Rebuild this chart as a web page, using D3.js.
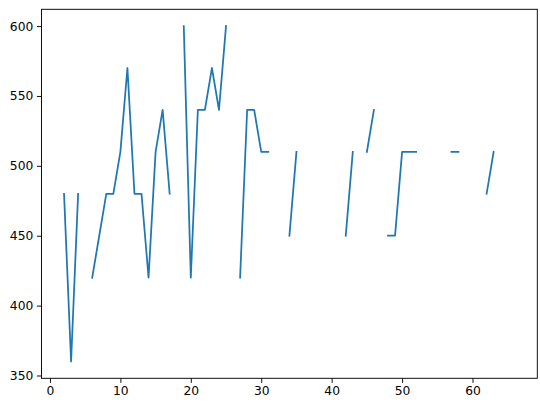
<!DOCTYPE html>
<html>
<head>
<meta charset="utf-8">
<script src="https://cdn.jsdelivr.net/npm/d3@7"></script>
<style>
  body { margin: 0; background: #fff; }
  text { font-family: "DejaVu Sans", sans-serif; }
</style>
</head>
<body>
<svg width="540" height="406"></svg>
<script>
// x index 2..66, null = gap in the series
const xs = d3.range(2, 67);
const values = [
  480, 360, 480, null, 420, 450, 480, 480, 510, 570,
  480, 480, 420, 510, 540, 480, null, 600, 420, 540,
  540, 570, 540, 600, null, 420, 540, 540, 510, 510,
  null, null, 450, 510, null, null, null, null, null, null,
  450, 510, null, 510, 540, null, 450, 450, 510, 510,
  510, null, null, null, null, 510, 510, null, null, null,
  480, 510, null, null, null
];
const xTicks = [0, 10, 20, 30, 40, 50, 60];
const yTicks = [350, 400, 450, 500, 550, 600];

const margin = { left: 41.5, right: 2.7, top: 9.3, bottom: 27.7 };
const width = 540, height = 406;

const svg = d3.select("svg");

const x_scale = d3.scaleLinear().domain([-1.2, 69.2]).range([margin.left, width - margin.right]);
const y_scale = d3.scaleLinear().domain([348, 612]).range([height - margin.bottom, margin.top]);

const data = xs.map((x, i) => ({ x: x, y: values[i] }));

const line_generator = d3.line()
  .defined(d => d.y !== null)
  .x(d => x_scale(d.x))
  .y(d => y_scale(d.y));

svg.append("path")
  .attr("fill", "none")
  .attr("stroke", "#1f77b4")
  .attr("stroke-width", 1.76)
  .attr("stroke-linecap", "square")
  .attr("stroke-linejoin", "round")
  .attr("d", line_generator(data));

// axes
const xAxis = d3.axisBottom(x_scale).tickValues(xTicks).tickSize(4.6).tickPadding(3.2);
const yAxis = d3.axisLeft(y_scale).tickValues(yTicks).tickSize(4.6).tickPadding(3.6);

const gx = svg.append("g")
  .attr("transform", `translate(0,${height - margin.bottom})`)
  .call(xAxis);
const gy = svg.append("g")
  .attr("transform", `translate(${margin.left},0)`)
  .call(yAxis);

[gx, gy].forEach(g => {
  g.select(".domain").remove();
  g.selectAll("line").attr("stroke", "#000").attr("stroke-width", 0.94);
  g.selectAll("text").attr("fill", "#000").style("font-size", "12.3px").style("font-family", "DejaVu Sans");
});

// frame
svg.append("rect")
  .attr("x", margin.left)
  .attr("y", margin.top)
  .attr("width", width - margin.left - margin.right)
  .attr("height", height - margin.top - margin.bottom)
  .attr("fill", "none")
  .attr("stroke", "#000")
  .attr("stroke-width", 0.94);
</script>
</body>
</html>
